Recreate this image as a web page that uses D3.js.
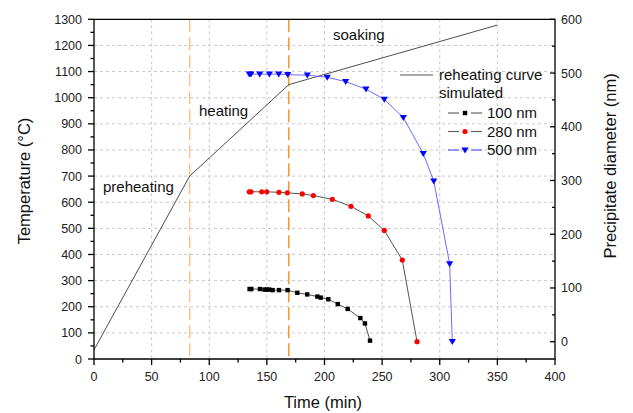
<!DOCTYPE html>
<html><head><meta charset="utf-8">
<script src="https://cdn.jsdelivr.net/npm/d3@7"></script>
<style>body{margin:0;background:#fff}svg text{font-family:"Liberation Sans",Arial,sans-serif}</style>
</head><body><svg id="c" width="633" height="413"></svg>
<script>
// ---- data ----
const reheatTime = [0, 83, 169, 350];
const reheatTemp = [35, 700, 1050, 1278];
const stageLines = [83, 169];
const s100Time = [135, 136.5, 144, 148, 150, 152, 155, 160.5, 168, 176.4, 185, 193.8, 196.7, 203.3, 211.5, 220.1, 231.1, 235.1, 239.5];
const s100Diam = [98, 98, 98, 97, 97, 97, 96, 96, 96, 91, 88, 84, 82, 79, 70, 61, 44, 34, 2];
const s280Time = [134.7, 136.2, 145.5, 149.9, 160.5, 167.7, 180.7, 190.3, 206.8, 223, 238, 251.9, 267.5, 280.3];
const s280Diam = [279, 279, 279, 279, 278, 277, 275, 272, 265, 252, 234, 207, 152, 0];
const s500Time = [134.7, 136.2, 143.8, 152.2, 160.3, 168.1, 185.1, 202.4, 218.4, 236, 251.9, 268.4, 285.7, 294.8, 308.6, 310.9];
const s500Diam = [498, 498, 498, 498, 498, 497, 496, 492, 484, 470, 451, 417, 350, 299, 145, 0];
const xTicks = [0, 50, 100, 150, 200, 250, 300, 350, 400];
const yTicks = [0, 100, 200, 300, 400, 500, 600, 700, 800, 900, 1000, 1100, 1200, 1300];
const y2Ticks = [0, 100, 200, 300, 400, 500, 600];
const stageLabels = ["preheating", "heating", "soaking"];
const stageLabelPos = [[103, 192], [199, 116], [333, 40]];

const svg = d3.select("#c");
const L = 94, R = 555, T = 19.3, B = 359;
const x = d3.scaleLinear().domain([0, 400]).range([L, R]);
const y = d3.scaleLinear().domain([0, 1300]).range([B, T]);
const y2 = d3.scaleLinear().domain([-32.2, 600]).range([B, T]);

svg.append("rect").attr("width", 633).attr("height", 413).attr("fill", "#fff");

// grid
const grid = svg.append("g").attr("stroke", "#c8c8c8").attr("stroke-width", 1).attr("stroke-dasharray", "3,3");
xTicks.filter(d => d > 0 && d < 400).forEach(d => grid.append("line").attr("x1", x(d)).attr("x2", x(d)).attr("y1", T).attr("y2", B));
yTicks.filter(d => d > 0 && d < 1300).forEach(d => grid.append("line").attr("x1", L).attr("x2", R).attr("y1", y(d)).attr("y2", y(d)));

// stage lines
const stageColors = ["#fbc28c", "#f8962a"];
stageLines.forEach((d, i) => svg.append("line").attr("x1", x(d)).attr("x2", x(d)).attr("y1", T).attr("y2", B)
  .attr("stroke", stageColors[i]).attr("stroke-width", 1.5).attr("stroke-dasharray", "13,5"));

// reheating curve
const line = d3.line().x(d => x(d[0])).y(d => y(d[1]));
svg.append("path").datum(reheatTime.map((t, i) => [t, reheatTemp[i]])).attr("d", line)
  .attr("fill", "none").attr("stroke", "#3a3a3a").attr("stroke-width", 0.9);

const line2 = d3.line().x(d => x(d[0])).y(d => y2(d[1]));
function series(times, vals, stroke, marker) {
  const data = times.map((t, i) => [t, vals[i]]);
  svg.append("path").datum(data).attr("d", line2).attr("fill", "none").attr("stroke", stroke).attr("stroke-width", 0.9);
  data.forEach(d => marker(svg, x(d[0]), y2(d[1])));
}
const sq = (g, cx, cy) => g.append("rect").attr("x", cx - 2.2).attr("y", cy - 2.2).attr("width", 4.4).attr("height", 4.4).attr("fill", "#000");
const dot = (g, cx, cy) => g.append("circle").attr("cx", cx).attr("cy", cy).attr("r", 2.6).attr("fill", "#ff0000");
const tri = (g, cx, cy) => g.append("path").attr("d", `M${cx - 3.6},${cy - 2.6}L${cx + 3.6},${cy - 2.6}L${cx},${cy + 3.4}Z`).attr("fill", "#0000ff");
series(s100Time, s100Diam, "#404040", sq);
series(s280Time, s280Diam, "#404040", dot);
series(s500Time, s500Diam, "#5a5aff", tri);

// axes
const tickCol = "#222";
const ax = svg.append("g").attr("stroke", "#000").attr("stroke-width", 1.3).attr("fill", "none");
ax.append("path").attr("d", `M${L},${T}H${R}V${B}H${L}Z`);
// x ticks
d3.range(0, 401, 25).forEach(d => ax.append("line").attr("x1", x(d)).attr("x2", x(d)).attr("y1", B).attr("y2", B + (d % 50 === 0 ? 6 : 3.5)));
d3.range(0, 1301, 50).forEach(d => ax.append("line").attr("x1", L).attr("x2", L - (d % 100 === 0 ? 6 : 3.5)).attr("y1", y(d)).attr("y2", y(d)));
d3.range(0, 601, 50).forEach(d => ax.append("line").attr("x1", R).attr("x2", R - (d % 100 === 0 ? 5 : 3)).attr("y1", y2(d)).attr("y2", y2(d)));

const lab = svg.append("g").attr("fill", tickCol).attr("font-size", 12.5);
xTicks.forEach(d => lab.append("text").attr("x", x(d)).attr("y", 381).attr("text-anchor", "middle").text(d));
yTicks.forEach(d => lab.append("text").attr("x", 82).attr("y", y(d) + 4.5).attr("text-anchor", "end").text(d));
y2Ticks.forEach(d => lab.append("text").attr("x", 561).attr("y", y2(d) + 4.5).attr("text-anchor", "start").text(d));

svg.append("text").attr("x", 323).attr("y", 408).attr("text-anchor", "middle").attr("font-size", 16.5).attr("fill", "#111").text("Time (min)");
svg.append("text").attr("transform", "translate(30,181) rotate(-90)").attr("text-anchor", "middle").attr("font-size", 16.5).attr("fill", "#111").text("Temperature (°C)");
svg.append("text").attr("transform", "translate(616,166) rotate(-90)").attr("text-anchor", "middle").attr("font-size", 16.5).attr("fill", "#111").text("Precipitate diameter (nm)");

stageLabels.forEach((s, i) => svg.append("text").attr("x", stageLabelPos[i][0]).attr("y", stageLabelPos[i][1]).attr("font-size", 15).attr("fill", "#111").text(s));

// legend
const lg = svg.append("g");
lg.append("line").attr("x1", 400).attr("x2", 433).attr("y1", 75).attr("y2", 75).attr("stroke", "#555").attr("stroke-width", 1.2);
lg.append("text").attr("x", 439).attr("y", 80).attr("font-size", 15).attr("fill", "#111").text("reheating curve");
lg.append("text").attr("x", 439).attr("y", 98).attr("font-size", 15).attr("fill", "#111").text("simulated");
const legItems = [["100 nm", "#666", sq], ["280 nm", "#666", dot], ["500 nm", "#5a5aff", tri]];
legItems.forEach((it, i) => {
  const yy = 113 + i * 18.5;
  lg.append("line").attr("x1", 448).attr("x2", 459).attr("y1", yy).attr("y2", yy).attr("stroke", it[1]).attr("stroke-width", 1.2);
  lg.append("line").attr("x1", 471).attr("x2", 482).attr("y1", yy).attr("y2", yy).attr("stroke", it[1]).attr("stroke-width", 1.2);
  it[2](lg, 465, yy);
  lg.append("text").attr("x", 487).attr("y", yy + 5).attr("font-size", 15).attr("fill", "#111").text(it[0]);
});
</script></body></html>
